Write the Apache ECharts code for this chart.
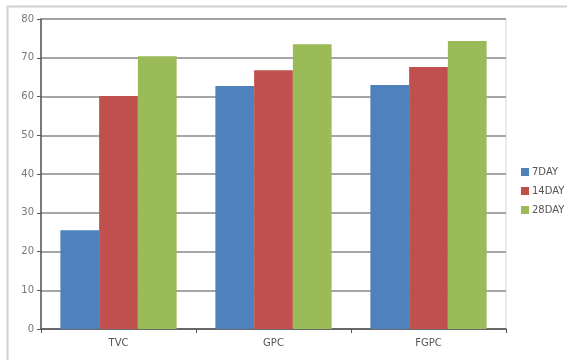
<!DOCTYPE html>
<html>
<head>
<meta charset="utf-8">
<script src="https://cdn.jsdelivr.net/npm/echarts@6/dist/echarts.min.js"></script>
<style>
  html, body { margin: 0; padding: 0; background: #fff; }
  #chart { width: 567px; height: 360px; }
</style>
</head>
<body>
<div id="chart"></div>
<script>
// Dados
const categories = ['TVC', 'GPC', 'FGPC'];
const seriesNames = ['7DAY', '14DAY', '28DAY'];
const day7 = [25.5, 62.7, 63.0];
const day14 = [60.1, 66.8, 67.6];
const day28 = [70.4, 73.5, 74.3];
const yTicks = [0, 10, 20, 30, 40, 50, 60, 70, 80];

const colors = ['#4f81bd', '#c0504d', '#9bbb59'];

const chartDom = document.getElementById('chart');
const myChart = echarts.init(chartDom);

const option = {
    animation: false,
    color: colors,
    // Moldura externa (topo e esquerda)
    graphic: [
        { type: 'line', shape: { x1: 7, y1: 6.5, x2: 567, y2: 6.5 }, style: { stroke: '#d0d0d0', lineWidth: 2 } },
        { type: 'line', shape: { x1: 7.5, y1: 6, x2: 7.5, y2: 360 }, style: { stroke: '#d0d0d0', lineWidth: 2 } }
    ],
    grid: {
        left: 41,
        top: 19,
        right: 61,
        bottom: 31,
        show: true,
        borderColor: '#d8d8d8',
        borderWidth: 1
    },
    legend: {
        orient: 'vertical',
        left: 516,
        top: 162,
        itemWidth: 8,
        itemHeight: 8,
        itemGap: 9,
        icon: 'rect',
        textStyle: { fontSize: 10, color: '#555', fontFamily: 'DejaVu Sans', padding: [0, 0, 0, -2] },
        data: seriesNames
    },
    xAxis: {
        type: 'category',
        data: categories,
        axisLine: { lineStyle: { color: '#555', width: 1.5 } },
        axisTick: { show: true, length: 4, lineStyle: { color: '#555' } },
        axisLabel: { fontSize: 10, color: '#555', margin: 9, fontFamily: 'DejaVu Sans' }
    },
    yAxis: {
        type: 'value',
        min: yTicks[0],
        max: yTicks[yTicks.length - 1],
        interval: 10,
        axisLine: { show: true, lineStyle: { color: '#555', width: 1.5 } },
        axisTick: { show: true, length: 4, lineStyle: { color: '#555' } },
        axisLabel: { fontSize: 10, color: '#777', margin: 7, fontFamily: 'DejaVu Sans' },
        splitLine: { lineStyle: { color: '#888', width: 1.5 } }
    },
    series: [
        { name: seriesNames[0], type: 'bar', data: day7, barGap: '0%', barCategoryGap: '25%' },
        { name: seriesNames[1], type: 'bar', data: day14, barGap: '0%', barCategoryGap: '25%' },
        { name: seriesNames[2], type: 'bar', data: day28, barGap: '0%', barCategoryGap: '25%' }
    ]
};

myChart.setOption(option);
</script>
</body>
</html>
